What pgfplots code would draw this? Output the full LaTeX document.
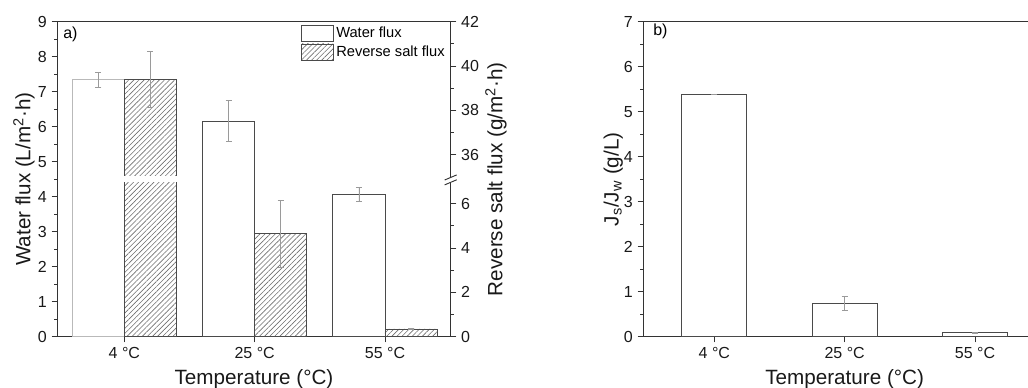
\documentclass[border=0pt]{standalone}
\usepackage{fontspec}
\setmainfont{Liberation Sans}
\usepackage{pgfplots}
\pgfplotsset{compat=1.18}
\usetikzlibrary{patterns.meta}

\definecolor{axc}{HTML}{333333}
\definecolor{barc}{HTML}{4A4A4A}
\definecolor{errc}{HTML}{9A9A9A}
\definecolor{hatc}{HTML}{6E6E6E}

\pgfplotsset{
  base/.style={
    scale only axis,
    height=236.25pt,
    ymin=0,
    axis line style={axc, line width=0.8pt},
    tick style={axc, line width=0.7pt},
    tick align=outside,
    major tick length=4.3pt,
    minor tick length=2.3pt,
    /pgf/number format/assume math mode=true,
    ticklabel style={font=\fontsize{12}{13}\selectfont, text=black!90},
    label style={font=\fontsize{15.5}{18}\selectfont, text=black!90},
    xtick={0,1,2},
    xticklabels={4 °C,25 °C,55 °C},
    xlabel style={at={(axis description cs:0.5,0)}, anchor=base, yshift=-36pt},
    clip=false,
  },
  errs/.style={error bars/.cd, y dir=both, y explicit,
    error bar style={errc, line width=0.6pt},
    error mark options={errc, rotate=90, mark size=2.3pt, line width=0.6pt}},
}

\begin{document}
\begin{tikzpicture}
\useasboundingbox (0,0) rectangle (771pt,290.25pt);

% ---------- panel a, left axis (water flux); bars centred at category-0.2
\begin{axis}[base, at={(43pt,37.7pt)}, anchor=south west, width=295pt,
  xmin=-0.514, xmax=2.504, ymax=9,
  ytick={0,1,...,9}, minor y tick num=1,
  ytick pos=left, xtick pos=bottom,
  xlabel={Temperature (°C)},
  ylabel={Water flux (L/m\textsuperscript{2}·h)},
  ylabel style={at={(axis description cs:-0.0847,0.5)}, anchor=center},
]
\addplot[ybar, bar width=0.4, bar shift=0, draw=gray!55, fill=white, line width=0.7pt, errs]
  coordinates {(-0.2,7.34) +- (0,0.21)};
\addplot[ybar, bar width=0.4, bar shift=0, draw=barc, fill=white, line width=0.7pt, errs]
  coordinates {(0.8,6.16) +- (0,0.59) (1.8,4.07) +- (0,0.19)};
\node[anchor=north west, inner sep=0pt, xshift=4.3pt, yshift=-3.8pt,
  font=\fontsize{12}{13}\selectfont] at (rel axis cs:0,1) {a)};
\end{axis}

% ---------- panel a, right axis (reverse salt flux, broken 7 -> 35); bars at category+0.2
\begin{axis}[base, at={(43pt,37.7pt)}, anchor=south west, width=295pt,
  xmin=-0.514, xmax=2.504, ymax=14.2,
  axis y line*=right, axis x line=none,
  ytick={0,2,4,6,8.2,10.2,12.2,14.2},
  yticklabels={0,2,4,6,36,38,40,42},
  minor ytick={1,3,5,9.2,11.2,13.2},
  ylabel={Reverse salt flux (g/m\textsuperscript{2}·h)},
  ylabel style={at={(axis description cs:1.115,0.5)}, anchor=center},
  legend style={at={(rel axis cs:1,1)}, anchor=north east, xshift=-2.5pt, yshift=-2.25pt,
    draw=none, fill=none, inner sep=0pt, outer sep=0pt, row sep=1.5pt,
    font=\fontsize{11}{13}\selectfont, nodes={inner xsep=2pt, inner ysep=0pt}},
  legend cell align=left,
]
\addlegendimage{legend image code/.code={\draw[barc, fill=white, line width=0.6pt] (0pt,-6pt) rectangle (24pt,6pt);}}
\addlegendentry{Water flux}
\addlegendimage{legend image code/.code={\draw[barc, line width=0.6pt, pattern={Lines[angle=45,distance=2.7pt,line width=0.45pt]}, pattern color=hatc] (0pt,-6pt) rectangle (24pt,6pt);}}
\addlegendentry{Reverse salt flux}
% values: 39.39 -> 11.59 (offset 27.8), 4.64, 0.35
\addplot[forget plot, ybar, bar width=0.4, bar shift=0, draw=barc, line width=0.7pt,
  pattern={Lines[angle=45,distance=2.7pt,line width=0.45pt]}, pattern color=hatc, errs]
  coordinates {(0.2,11.59) +- (0,1.27) (1.2,4.64) +- (0,1.5) (2.2,0.35) +- (0,0.02)};
\fill[white] (axis cs:-0.004,6.975) rectangle (axis cs:0.404,7.245);
\coordinate (g1) at (axis cs:2.504,7.18);
\coordinate (g2) at (axis cs:2.504,6.96);
\end{axis}
\fill[white] ([xshift=-1.5pt]g1) rectangle ([xshift=1.5pt]g2);
\draw[axc, line width=0.7pt] ([xshift=-4.5pt,yshift=-1.9pt]g1) -- ([xshift=4.5pt,yshift=1.9pt]g1);
\draw[axc, line width=0.7pt] ([xshift=-4.5pt,yshift=-1.9pt]g2) -- ([xshift=4.5pt,yshift=1.9pt]g2);

% ---------- panel b
\begin{axis}[base, at={(482.5pt,37.7pt)}, anchor=south west, width=302pt,
  xmin=-0.545, xmax=2.545, ymax=7,
  ytick={0,1,...,7}, minor y tick num=1,
  ytick pos=left, xtick pos=bottom,
  xlabel={Temperature (°C)},
  ylabel={J\textsubscript{s}/J\textsubscript{w} (g/L)},
  ylabel style={at={(axis description cs:-0.0745,0.5)}, anchor=center},
]
\addplot[ybar, bar width=0.5, bar shift=0, draw=barc, fill=white, line width=0.7pt, errs]
  coordinates {(0,5.39) +- (0,0.005) (1,0.74) +- (0,0.165) (2,0.09) +- (0,0.005)};
\node[anchor=north west, inner sep=0pt, xshift=7.3pt, yshift=-1.3pt,
  font=\fontsize{12}{13}\selectfont] at (rel axis cs:0,1) {b)};
\end{axis}
\end{tikzpicture}
\end{document}
